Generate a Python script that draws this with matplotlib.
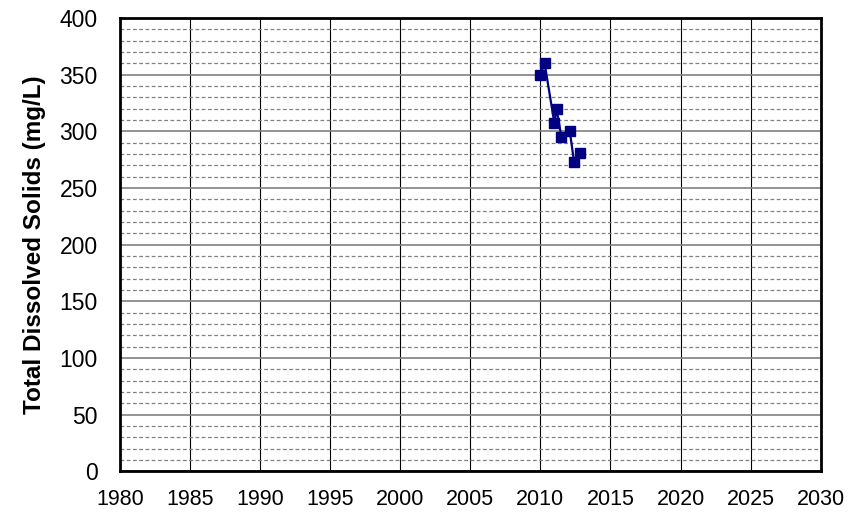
import numpy as np
import matplotlib.pyplot as plt
from matplotlib.ticker import MultipleLocator

plt.rcParams['font.family'] = ['Liberation Sans', 'DejaVu Sans']

# sample dates (decimal years) and TDS values
years = [2010.0, 2010.3, 2011.0, 2011.15, 2011.5, 2012.1, 2012.4, 2012.8]
tds = [350, 360, 307, 320, 295, 300, 273, 281]

fig = plt.figure(figsize=(8.63, 5.15), dpi=100)
ax = fig.add_axes([0.139, 0.085, 0.812, 0.880])

ax.set_xlim(1980, 2030)
ax.set_ylim(0, 400)
ax.xaxis.set_major_locator(MultipleLocator(5))
ax.yaxis.set_major_locator(MultipleLocator(50))
ax.yaxis.set_minor_locator(MultipleLocator(10))

# grid: solid majors, dashed horizontal minors
ax.grid(which='major', axis='x', color='black', linewidth=0.8)
ax.grid(which='major', axis='y', color='#808080', linewidth=1.2)
ax.grid(which='minor', axis='y', color='#808080', linewidth=0.9, linestyle=(0, (3, 2)))
ax.set_axisbelow(True)

ax.plot(years, tds, color='#000080', linewidth=1.6, marker='s', markersize=7,
        markerfacecolor='#000080', markeredgecolor='#000080', zorder=3)

for s in ax.spines.values():
    s.set_linewidth(2)
    s.set_color('black')

ax.tick_params(which='both', length=0)
ax.tick_params(axis='y', labelsize=16.5, pad=16)
ax.tick_params(axis='x', labelsize=15.5, pad=13)
ax.set_ylabel('Total Dissolved Solids (mg/L)', fontsize=17.5, fontweight='bold', labelpad=10)

fig.savefig('out.png', dpi=100)
